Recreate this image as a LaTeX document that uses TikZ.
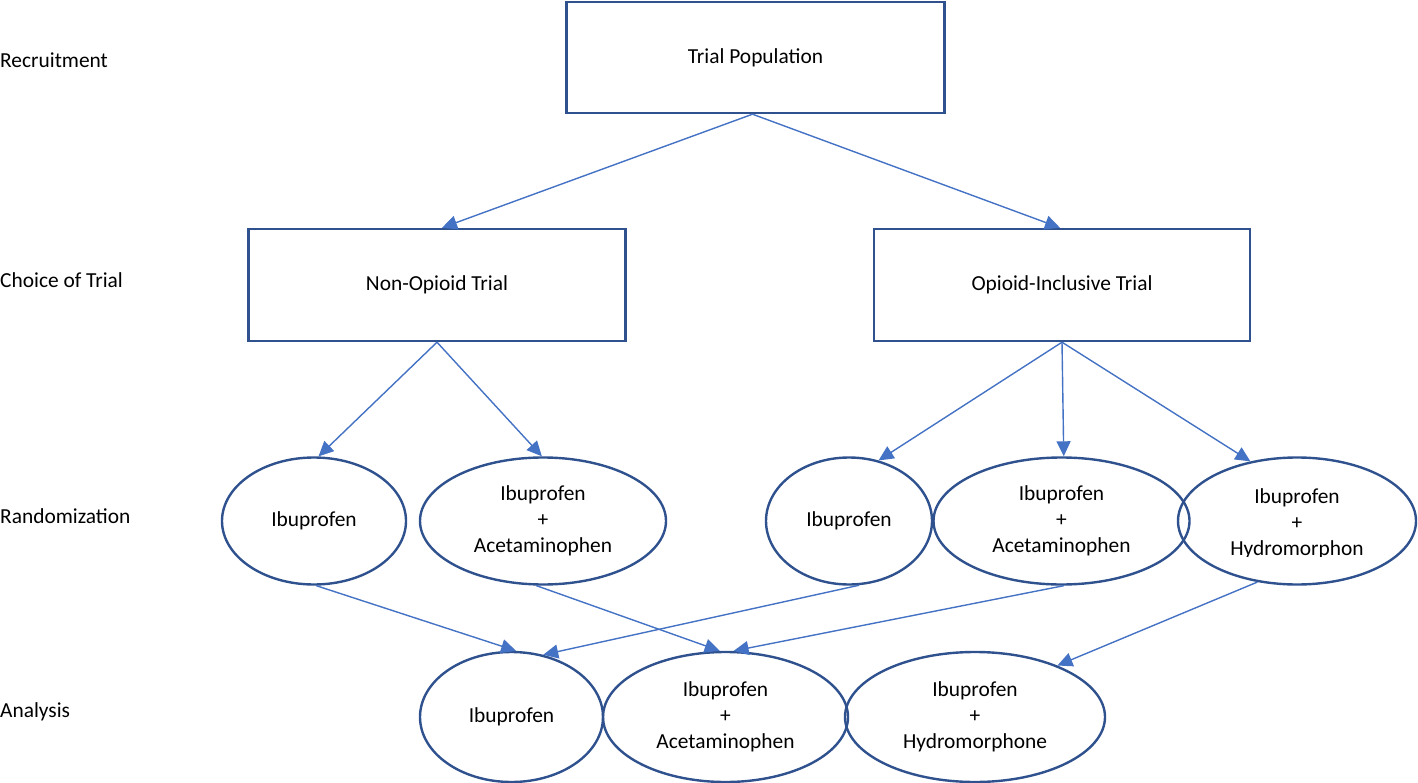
\documentclass[tikz,border=0pt]{standalone}
\usepackage{fontspec}
\setmainfont{Carlito}
\usetikzlibrary{shapes.geometric,arrows.meta}
\definecolor{bordblue}{HTML}{2F528F}
\definecolor{arrblue}{HTML}{4472C4}
\tikzset{
  boxnode/.style={draw=bordblue,line width=2.4pt,rectangle,inner sep=0pt,font=\fontsize{21.4}{26}\selectfont},
  ellnode/.style={draw=bordblue,line width=2.4pt,ellipse,inner sep=0pt,align=center,font=\fontsize{21.4}{26}\selectfont},
  txtnode/.style={inner sep=0pt,align=center,font=\fontsize{21.4}{26}\selectfont},
  lbl/.style={anchor=west,inner sep=0pt,font=\fontsize{21.4}{26}\selectfont},
  arr/.style={draw=arrblue,line width=1.4pt,-{Triangle[length=15pt,width=14pt]}}
}
\begin{document}
\begin{tikzpicture}[x=1pt,y=-1pt]
\useasboundingbox (0,0) rectangle (1418,783);
% row labels
\node[lbl] (l1) at (0,60) {Recruitment};
\node[lbl] (l2) at (0,280) {Choice of Trial};
\node[lbl] (l3) at (0,516) {Randomization};
\node[lbl] (l4) at (0,712) {Analysis};
% boxes
\node[boxnode,minimum width=378pt,minimum height=111pt] (top) at (755.5,57.5) {Trial Population};
\node[boxnode,minimum width=377pt,minimum height=112pt] (nop) at (437,285) {Non-Opioid Trial};
\node[boxnode,minimum width=376pt,minimum height=112pt] (opi) at (1062,285) {Opioid-Inclusive Trial};
% randomization
\node[ellnode,minimum width=184pt,minimum height=127pt] (rib) at (314,521) {Ibuprofen};
\node[ellnode,minimum width=246pt,minimum height=127pt] (ria) at (543,521) {Ibuprofen\\+\\Acetaminophen};
\node[ellnode,minimum width=166pt,minimum height=127pt] (rib2) at (849,521) {Ibuprofen};
\node[ellnode,minimum width=256pt,minimum height=127pt] (ria2) at (1061.5,521) {Ibuprofen\\+\\Acetaminophen};
\node[ellnode,minimum width=238pt,minimum height=127pt] (rh) at (1297,521) {};
\begin{scope}
\clip (1180,470) rectangle (1416,556);
\node[txtnode] (rht) at (1297,524) {Ibuprofen\\+\\Hydromorphon};
\end{scope}
% analysis
\node[ellnode,minimum width=183pt,minimum height=130pt] (aib) at (511.5,717) {Ibuprofen};
\node[ellnode,minimum width=245pt,minimum height=130pt] (aia) at (725.5,717) {Ibuprofen\\+\\Acetaminophen};
\node[ellnode,minimum width=260pt,minimum height=130pt] (aih) at (975,717) {Ibuprofen\\+\\Hydromorphone};
% arrows
\draw[arr] ([xshift=-3pt]top.south) -- ([xshift=5pt]nop.north);
\draw[arr] ([xshift=-3pt]top.south) -- ([xshift=-2pt]opi.north);
\draw[arr] (nop.south) -- (rib.86);
\draw[arr] (nop.south) -- (ria.91);
\draw[arr] (opi.south) -- (rib2.64);
\draw[arr] (opi.south) -- (ria2.88);
\draw[arr] (opi.south) -- (rh.128);
\draw[arr] (rib.272) -- (aib.86);
\draw[arr] (ria.264) -- (aia.95);
\draw[arr] (rib2.279) -- (aib.63);
\draw[arr] (ria2.272) -- (aia.83);
\draw[arr] (rh.237) -- (aih.32);
\end{tikzpicture}
\end{document}
